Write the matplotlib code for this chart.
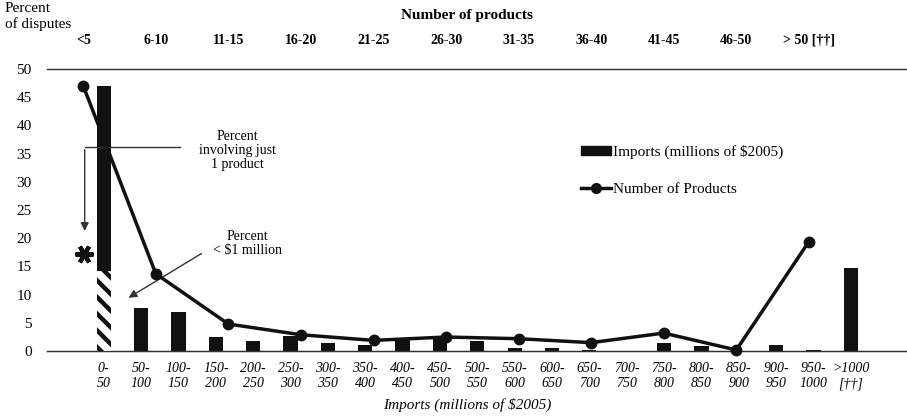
import matplotlib
matplotlib.use("Agg")
import matplotlib.pyplot as plt
from matplotlib.patches import Patch
from matplotlib.lines import Line2D

# datos
import_labels = ["0-\n50", "50-\n100", "100-\n150", "150-\n200", "200-\n250", "250-\n300",
                 "300-\n350", "350-\n400", "400-\n450", "450-\n500", "500-\n550", "550-\n600",
                 "600-\n650", "650-\n700", "700-\n750", "750-\n800", "800-\n850", "850-\n900",
                 "900-\n950", "950-\n1000", ">1000\n[††]"]
import_pct = [47.0, 7.7, 7.0, 2.5, 1.8, 2.7, 1.5, 1.1, 2.1, 2.5, 1.8, 0.5, 0.5, 0.2,
              0.0, 1.5, 0.9, 0.0, 1.1, 0.2, 14.8]
under_1m_pct = 14.2

product_labels = ["<5", "6-10", "11-15", "16-20", "21-25", "26-30", "31-35", "36-40",
                  "41-45", "46-50", "> 50 [††]"]
product_pct = [47.0, 13.7, 4.8, 2.9, 1.9, 2.5, 2.2, 1.5, 3.2, 0.2, 19.4]
one_product_pct = 17.2

plt.rcParams['font.family'] = ['Liberation Serif', 'DejaVu Serif']
plt.rcParams['hatch.linewidth'] = 3.2

fig = plt.figure(figsize=(9.07, 4.18), dpi=100)
ax = fig.add_axes([0.0518, 0.160, 0.96, 0.675])

xs = list(range(len(import_pct)))
ax.bar(xs, import_pct, width=0.38, color='#111111', zorder=2)
# parte rayada (< $1 million)
ax.bar([0], [under_1m_pct], width=0.38, color='white', edgecolor='#111111',
       hatch='\\\\', linewidth=0, zorder=3)

ax.set_xlim(-1.52, 21.79)
ax.set_ylim(0, 50)
ax.set_yticks(range(0, 51, 5))
ax.set_xticks(xs)
ax.set_xticklabels(import_labels, fontstyle='italic', fontsize=10)
ax.tick_params(axis='both', length=0)
ax.tick_params(axis='x', pad=8, labelsize=10)
ax.tick_params(axis='y', pad=11, labelsize=11)
ax.spines['right'].set_visible(False)
ax.spines['left'].set_visible(False)
for s in ['bottom', 'top']:
    ax.spines[s].set_linewidth(1.0)
    ax.spines[s].set_color('#333333')

# eje superior: numero de productos
ax2 = ax.twiny()
ax2.plot(range(len(product_pct)), product_pct, color='#111111', lw=2.5,
         marker='o', markersize=7.5, zorder=4, clip_on=False)
ax2.set_xlim(-0.5, 11.5)
ax2.set_xticks(range(len(product_labels)))
ax2.set_xticklabels(product_labels, fontweight='bold', fontsize=10)
ax2.tick_params(axis='x', length=0, pad=16)
ax2.spines['right'].set_visible(False)
ax2.spines['left'].set_visible(False)
ax2.spines['top'].set_color('#333333')
ax2.spines['bottom'].set_color('#333333')

# asterisco
ax.plot([-0.54], [one_product_pct], marker=(6, 2, 90), markersize=13, mew=3,
        color='#111111', clip_on=False, zorder=5)

# anotaciones
ax.plot([2.03, -0.51], [36.2, 36.2], color='#333333', lw=1.0)
ax.annotate("", xy=(-0.51, 20.8), xytext=(-0.51, 36.2),
            arrowprops=dict(arrowstyle='-|>', color='#333333', lw=1.0, mutation_scale=12))
ax.text(3.58, 35.6, "Percent\ninvolving just\n1 product", ha='center', va='center',
        fontsize=10, linespacing=1.1)
ax.annotate("", xy=(0.6, 9.2), xytext=(2.68, 17.55),
            arrowprops=dict(arrowstyle='-|>', color='#333333', lw=1.0, mutation_scale=12))
ax.text(3.85, 19.1, "Percent\n< \\$1 million", ha='center', va='center',
        fontsize=10, linespacing=1.1)

# leyenda
handles = [Patch(facecolor='#111111', edgecolor='#111111'),
           Line2D([0], [0], color='#111111', lw=2.5, marker='o', markersize=7)]
fig.legend(handles, ["Imports (millions of \\$2005)", "Number of Products"],
           loc='upper left', bbox_to_anchor=(0.632, 0.672), frameon=False,
           fontsize=11, handlelength=2.0, handleheight=0.5, handletextpad=0.1,
           labelspacing=1.6, borderpad=0)

fig.text(5 / 907, 1 - 2 / 418, "Percent\nof disputes", ha='left', va='top', fontsize=11,
         linespacing=1.2)
fig.text(467 / 907, 1 - 15 / 418, "Number of products", ha='center', va='center',
         fontsize=11, fontweight='bold')
fig.text(467 / 907, 1 - 405 / 418, "Imports (millions of \\$2005)", ha='center',
         va='center', fontsize=11, fontstyle='italic')

fig.savefig("out.png", dpi=100)
